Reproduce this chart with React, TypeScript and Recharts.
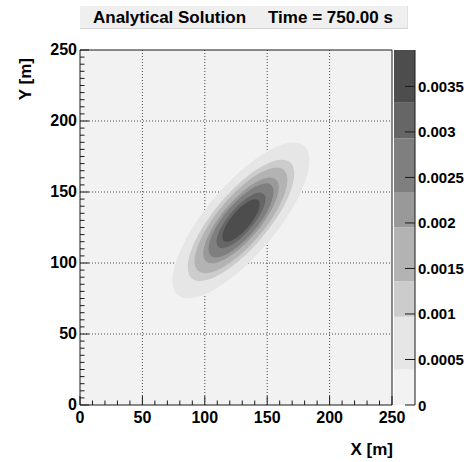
import React from "react";
import {
  ComposedChart,
  Scatter,
  XAxis,
  YAxis,
  CartesianGrid,
  ReferenceLine,
  BarChart,
  Bar,
} from "recharts";

// contour levels (colour scale edges)
const levelEdges = [0, 0.00039, 0.00097, 0.00136, 0.00195, 0.00234, 0.00293, 0.00332, 0.0039];
const levelColors = ["#f2f2f2", "#e6e6e6", "#cccccc", "#b3b3b3", "#999999", "#7f7f7f", "#666666", "#4d4d4d"];

// filled contours of the plume: semi axes [m] of each level, from outside in
const contourSemiMajor = [73, 56.8, 49.5, 40.2, 34.7, 26.1, 19.9];
const contourSemiMinor = [26.3, 20.5, 17.8, 14.5, 12.5, 9.4, 7.2];
const plumeCenterX = 129;
const plumeCenterY = 130;
const plumeTilt = 45;

const xTicks = [0, 50, 100, 150, 200, 250];
const yTicks = [0, 50, 100, 150, 200, 250];
const gridLines = [50, 100, 150, 200];
const paletteTicks = [0, 0.0005, 0.001, 0.0015, 0.002, 0.0025, 0.003, 0.0035];
const paletteLabels = ["0", "0.0005", "0.001", "0.0015", "0.002", "0.0025", "0.003", "0.0035"];

const W = 466;
const H = 462;
const M = { top: 50, right: 74, bottom: 37, left: 40 };
const Y_AXIS_W = 40;
const X_AXIS_H = 20;
const PLOT_W = W - M.left - M.right - Y_AXIS_W;
const PLOT_H = H - M.top - M.bottom - X_AXIS_H;
const KX = PLOT_W / 250;
const KY = PLOT_H / 250;

const FONT = "'Liberation Sans', Arial, Helvetica, sans-serif";
const INK = "#1a1a1a";

const xMinor = Array.from({ length: 26 }, (_, i) => i * 10);
const yMinor = Array.from({ length: 51 }, (_, i) => i * 5);

const contours = contourSemiMajor.map((a, i) => ({
  x: plumeCenterX,
  y: plumeCenterY,
  a,
  b: contourSemiMinor[i],
  color: levelColors[i + 1],
}));

const paletteRow = [
  levelColors.reduce((row: any, _c, i) => {
    row["b" + i] = levelEdges[i + 1] - levelEdges[i];
    return row;
  }, { name: "palette" }),
];

function ContourShape(props: any) {
  const { cx, cy, payload } = props;
  return (
    <g transform={`translate(${cx},${cy}) scale(${KX},${-KY}) rotate(${plumeTilt})`}>
      <ellipse cx={0} cy={0} rx={payload.a} ry={payload.b} fill={payload.color} stroke="none" />
    </g>
  );
}

function XTick(props: any) {
  const { x, y, payload } = props;
  const major = xTicks.includes(payload.value);
  return (
    <g>
      <line x1={x} y1={y} x2={x} y2={y - (major ? 9 : 4.5)} stroke={INK} strokeWidth={1} />
      {major && (
        <text x={x} y={y + 18} textAnchor="middle" fontSize={16} fontWeight="bold" fill="#000" fontFamily={FONT}>
          {payload.value}
        </text>
      )}
    </g>
  );
}

function YTick(props: any) {
  const { x, y, payload } = props;
  const major = yTicks.includes(payload.value);
  return (
    <g>
      <line x1={x} y1={y} x2={x + (major ? 9 : 4.5)} y2={y} stroke={INK} strokeWidth={1} />
      {major && (
        <text x={x - 3} y={y + 5} textAnchor="end" fontSize={16} fontWeight="bold" fill="#000" fontFamily={FONT}>
          {payload.value}
        </text>
      )}
    </g>
  );
}

function PaletteTick(props: any) {
  const { x, y, payload, index } = props;
  return (
    <g>
      <line x1={x - 10} y1={y} x2={x} y2={y} stroke={INK} strokeWidth={1} />
      <text x={x + 3} y={y + 5.5} textAnchor="start" fontSize={15} fontWeight="bold" fill="#000" fontFamily={FONT}>
        {paletteLabels[index] ?? payload.value}
      </text>
    </g>
  );
}

export default function App() {
  return (
    <div style={{ position: "absolute", left: 0, top: 0, width: W, height: H, background: "#fff", fontFamily: FONT }}>
      <div
        style={{
          position: "absolute",
          left: 80,
          top: 6,
          width: 328,
          height: 23,
          boxSizing: "border-box",
          background: "#efefef",
          borderBottom: "1px solid #d4d4d4",
          borderRight: "1px solid #e0e0e0",
          fontSize: 17,
          fontWeight: "bold",
          lineHeight: "23px",
          paddingLeft: 13,
          whiteSpace: "pre",
          color: "#000",
        }}
      >
        <span>Analytical Solution</span>
        <span style={{ marginLeft: 22 }}>Time = 750.00 s</span>
      </div>

      <div style={{ position: "absolute", left: 0, top: 0 }}>
        <ComposedChart width={W} height={H} margin={M}>
          <CartesianGrid fill="#f2f2f2" horizontal={false} vertical={false} stroke="none" />
          <XAxis
            type="number"
            dataKey="x"
            domain={[0, 250]}
            ticks={xMinor}
            interval={0}
            tick={XTick}
            tickLine={false}
            tickSize={0}
            tickMargin={0}
            height={X_AXIS_H}
            axisLine={{ stroke: INK }}
            allowDataOverflow
          />
          <YAxis
            type="number"
            dataKey="y"
            domain={[0, 250]}
            ticks={yMinor}
            interval={0}
            tick={YTick}
            tickLine={false}
            tickSize={0}
            tickMargin={0}
            width={Y_AXIS_W}
            axisLine={{ stroke: INK }}
            allowDataOverflow
          />
          <Scatter data={contours} shape={ContourShape} isAnimationActive={false} />
          {gridLines.map((v) => (
            <ReferenceLine key={"gx" + v} x={v} stroke="#4a4a4a" strokeDasharray="1 2" />
          ))}
          {gridLines.map((v) => (
            <ReferenceLine key={"gy" + v} y={v} stroke="#4a4a4a" strokeDasharray="1 2" />
          ))}
          <ReferenceLine y={250} stroke={INK} />
          <ReferenceLine x={250} stroke={INK} />
        </ComposedChart>
      </div>

      <div style={{ position: "absolute", left: 380, top: 0 }}>
        <BarChart width={86} height={H} data={paletteRow} margin={{ top: 50, right: 0, bottom: 57, left: 14 }} barCategoryGap={0}>
          <XAxis dataKey="name" hide />
          <YAxis
            orientation="right"
            type="number"
            domain={[0, 0.0039]}
            ticks={paletteTicks}
            interval={0}
            tick={PaletteTick}
            tickLine={false}
            tickSize={0}
            tickMargin={0}
            width={51}
            axisLine={{ stroke: INK }}
            allowDataOverflow
          />
          {levelColors.map((c, i) => (
            <Bar key={c} dataKey={"b" + i} stackId="p" fill={c} isAnimationActive={false} />
          ))}
        </BarChart>
      </div>

      <svg style={{ position: "absolute", left: 0, top: 0 }} width={W} height={H} pointerEvents="none">
        <text
          x={31}
          y={58}
          transform="rotate(-90, 31, 58)"
          textAnchor="end"
          fontSize={17}
          fontWeight="bold"
          fontFamily={FONT}
          fill="#000"
        >
          Y [m]
        </text>
        <text x={393} y={455} textAnchor="end" fontSize={17} fontWeight="bold" fontFamily={FONT} fill="#000">
          X [m]
        </text>
      </svg>
    </div>
  );
}
